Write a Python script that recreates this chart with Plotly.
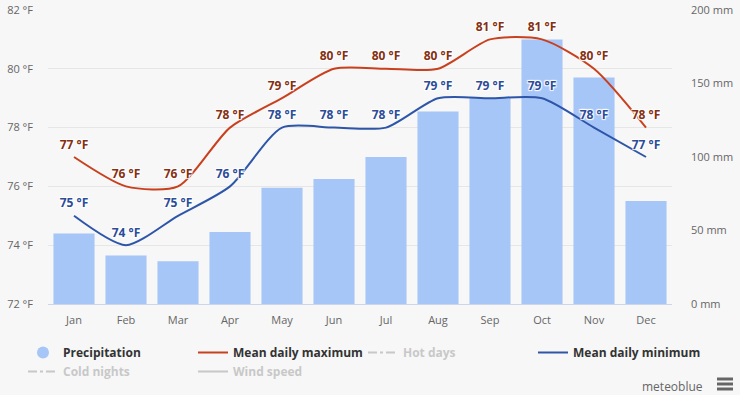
import plotly.graph_objects as go

# ---------------- data ----------------
months = ["Jan", "Feb", "Mar", "Apr", "May", "Jun", "Jul", "Aug", "Sep", "Oct", "Nov", "Dec"]
precip_mm = [48, 33, 29, 49, 79, 85, 100, 131, 140, 180, 154, 70]
temp_max_f = [77, 76, 76, 78, 79, 80, 80, 80, 81, 81, 80, 78]
temp_min_f = [75, 74, 75, 76, 78, 78, 78, 79, 79, 79, 78, 77]
temp_ticks = [72, 74, 76, 78, 80, 82]
temp_tick_labels = [f"{v} °F" for v in temp_ticks]
precip_ticks = [0, 50, 100, 150, 200]
precip_tick_labels = [f"{v} mm" for v in precip_ticks]

# ---------------- style ----------------
W, H = 740, 395
ML, MR, MT, MB = 48, 68, 10, 91
PW, PH = W - ML - MR, H - MT - MB
BG = "#f7f7f7"
BAR = "#a7c6f8"
RED = "#c8401e"
RED_LBL = "#853012"
BLUE = "#2d55a8"
BLUE_LBL = "#2c4b98"
FONT = "Open Sans, DejaVu Sans, sans-serif"
HALO = "1px 1px 1px #fff, -1px -1px 1px #fff, 1px -1px 1px #fff, -1px 1px 1px #fff"
CLEAR = "rgba(0,0,0,0)"


def px_x(px):
    return (px - ML) / PW


def px_y(py):
    return (H - MB - py) / PH


fig = go.Figure()

# precipitation bars (main y axis, right side)
fig.add_trace(go.Bar(
    x=months, y=precip_mm, name="Precipitation", marker=dict(color=BAR, line=dict(width=0)),
    yaxis="y", showlegend=False,
))

# temperature lines (overlay y axis, left side)
fig.add_trace(go.Scatter(
    x=months, y=temp_max_f, name="Mean daily maximum", yaxis="y2",
    mode="lines+markers+text", line=dict(color=RED, width=2, shape="spline", smoothing=0.7),
    marker=dict(size=7, color=CLEAR, line=dict(width=0)),
    texttemplate="%{y:.0f} °F", textposition="top center",
    textfont=dict(family=FONT, size=12, color=RED_LBL, weight="bold", shadow=HALO),
    legend="legend2", legendrank=1,
))
fig.add_trace(go.Scatter(
    x=months, y=temp_min_f, name="Mean daily minimum", yaxis="y2",
    mode="lines+markers+text", line=dict(color=BLUE, width=2, shape="spline", smoothing=0.7),
    marker=dict(size=7, color=CLEAR, line=dict(width=0)),
    texttemplate="%{y:.0f} °F", textposition="top center",
    textfont=dict(family=FONT, size=12, color=BLUE_LBL, weight="bold", shadow=HALO),
    legend="legend4", legendrank=1,
))

# legend-only entries
fig.add_trace(go.Scatter(
    x=[None], y=[None], name="Precipitation", mode="markers", yaxis="y",
    marker=dict(symbol="circle", size=12, color=BAR),
    legend="legend", legendrank=1,
))
GREY_TXT = "<span style='color:#9a9a9a'>%s</span>"
fig.add_trace(go.Scatter(
    x=[None], y=[None], name=GREY_TXT % "Hot days", mode="lines", yaxis="y2",
    line=dict(color="#9a9a9a", width=2, dash="dashdot"), visible="legendonly",
    legend="legend3", legendrank=1,
))
fig.add_trace(go.Scatter(
    x=[None], y=[None], name=GREY_TXT % "Cold nights", mode="lines", yaxis="y2",
    line=dict(color="#9a9a9a", width=2, dash="dashdot"), visible="legendonly",
    legend="legend", legendrank=2,
))
fig.add_trace(go.Scatter(
    x=[None], y=[None], name=GREY_TXT % "Wind speed", mode="lines", yaxis="y2",
    line=dict(color="#9a9a9a", width=2), visible="legendonly",
    legend="legend2", legendrank=2,
))

legend_common = dict(
    orientation="v", xref="container", yref="container", xanchor="left", yanchor="top",
    font=dict(family=FONT, size=12, color="#333333", weight="bold"),
    bgcolor="rgba(0,0,0,0)", borderwidth=0, itemclick=False, itemdoubleclick=False,
    traceorder="normal", valign="middle", y=1 - 338 / H,
)
COL_W = 170
LEG_X0 = 23

fig.update_layout(
    width=W, height=H,
    margin=dict(l=ML, r=MR, t=MT, b=MB, autoexpand=False),
    paper_bgcolor=BG, plot_bgcolor=BG,
    font=dict(family=FONT, size=11, color="#666666"),
    bargap=0.21,
    xaxis=dict(
        type="category", range=[-0.5, len(months) - 0.5], showgrid=False, showline=True,
        linecolor="#ccd6eb", linewidth=1,
        ticks="", tickfont=dict(family=FONT, size=11, color="#666666"), ticklabelstandoff=6,
        fixedrange=True,
    ),
    yaxis=dict(
        side="right", range=[0, 200], tickmode="array", tickvals=precip_ticks,
        ticktext=precip_tick_labels,
        showgrid=False, zeroline=False, showline=False, ticks="",
        tickfont=dict(family=FONT, size=11, color="#666666"), ticklabelstandoff=18,
        fixedrange=True,
    ),
    yaxis2=dict(
        side="left", overlaying="y", range=[72, 82], tickmode="array", tickvals=temp_ticks,
        ticktext=temp_tick_labels,
        showgrid=True, gridcolor="#e6e6e6", gridwidth=1, zeroline=False, showline=False, ticks="",
        tickfont=dict(family=FONT, size=11, color="#666666"), ticklabelstandoff=14,
        fixedrange=True,
    ),
    legend=dict(legend_common, x=(LEG_X0 + 0 * COL_W) / W),
    legend2=dict(legend_common, x=(LEG_X0 + 1 * COL_W) / W),
    legend3=dict(legend_common, x=(LEG_X0 + 2 * COL_W) / W),
    legend4=dict(legend_common, x=(LEG_X0 + 3 * COL_W) / W),
    showlegend=True,
    annotations=[dict(
        text="meteoblue", xref="paper", yref="paper", x=px_x(705), y=px_y(386),
        xanchor="right", yanchor="middle", showarrow=False,
        font=dict(family=FONT, size=12, color="#666666"),
    )],
    shapes=[
        dict(type="line", xref="paper", yref="paper", x0=px_x(717), x1=px_x(733),
             y0=px_y(yy), y1=px_y(yy), line=dict(color="#666666", width=3))
        for yy in (379, 384, 389)
    ],
)

fig.write_html(
    "out.html",
    config={"displayModeBar": False, "responsive": False},
    post_script="document.body.style.margin='0';document.body.style.overflow='hidden';",
)
